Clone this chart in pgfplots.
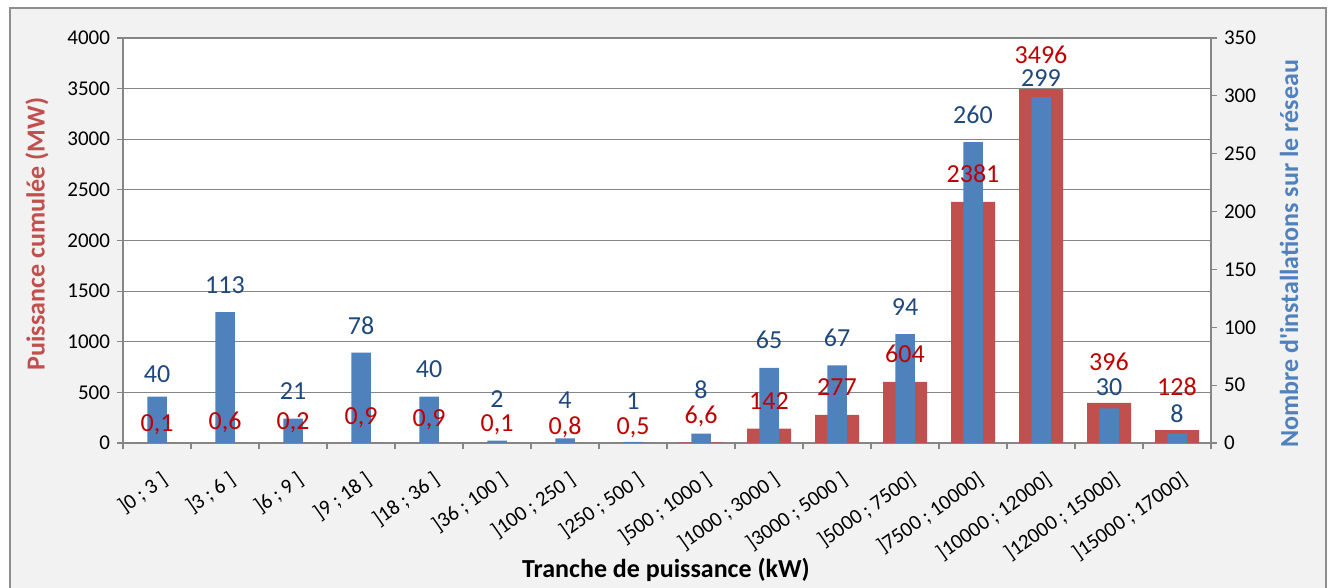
\documentclass[border=0pt]{standalone}
\usepackage{fontspec}
\setmainfont{Carlito}
\usepackage{pgfplots}
\usepackage{pgfplotstable}
\pgfplotsset{compat=1.18}
\definecolor{barred}{HTML}{C0504D}
\definecolor{barblue}{HTML}{4F81BD}
\definecolor{labred}{HTML}{C00000}
\definecolor{labblue}{HTML}{1F497D}
\definecolor{axgray}{HTML}{868686}
\definecolor{framegray}{HTML}{8E8E8E}
\definecolor{bg}{HTML}{F2F2F2}

\pgfplotstableread{
x y off lab
0 0.1 11 0,1
1 0.6 13 0,6
2 0.2 13 0,2
3 0.9 18 0,9
4 0.9 16 0,9
5 0.1 11 0,1
6 0.8 8 0,8
7 0.5 8 0,5
8 6.6 19 6,6
9 142 19 142
10 277 19 277
11 604 19 604
12 2381 19 2381
13 3496 26 3496
14 396 32 396
15 128 35 128
}\redtab

\pgfplotstableread{
x y off lab
0 40 14 40
1 113 19 113
2 21 19 21
3 78 18 78
4 40 19 40
5 2 33 2
6 4 30 4
7 1 32 1
8 8 35 8
9 65 19 65
10 67 19 67
11 94 19 94
12 260 19 260
13 299 11 299
14 30 13 30
15 8 11 8
}\bluetab

\pgfplotsset{
  common/.style={
    scale only axis, width=544pt, height=202.5pt,
    at={(61.5pt,72.5pt)}, anchor=south west,
    xmin=-0.5, xmax=15.5,
    yticklabel={\fontsize{10.5}{12}\selectfont\pgfmathprintnumber[assume math mode=true,1000 sep={}]{\tick}},
    yticklabel style={text=black},
    scaled y ticks=false,
    tick align=outside, major tick length=3pt,
    axis line style={axgray, line width=0.6pt},
    tick style={axgray, line width=0.6pt},
  },
}

\begin{document}
\begin{tikzpicture}
\useasboundingbox (0,0) rectangle (667.5pt,294pt);
\fill[white] (0,0) rectangle (667.5pt,294pt);
\fill[bg] (5pt,0) rectangle (663pt,290pt);
\draw[framegray, line width=0.75pt] (5pt,-1pt) -- (5pt,290pt) -- (663pt,290pt) -- (663pt,-1pt);

% left axis, red bars
\begin{axis}[common,
  axis x line*=bottom, axis y line*=left,
  ymin=0, ymax=4000, ytick={0,500,...,4000},
  ymajorgrids, grid style={axgray, line width=0.6pt},
  xtick={-0.5,0.5,...,15.5},
  x tick label as interval,
  xticklabels={{]0 ; 3 ]},{]3 ; 6 ]},{]6 ; 9 ]},{]9 ; 18 ]},{]18 ; 36 ]},{]36 ; 100 ]},{]100 ; 250 ]},{]250 ; 500 ]},{]500 ; 1000 ]},{]1000 ; 3000 ]},{]3000 ; 5000 ]},{]5000 ; 7500]},{]7500 ; 10000]},{]10000 ; 12000]},{]12000 ; 15000]},{]15000 ; 17000]}},
  xticklabel style={font=\fontsize{10.5}{12}\selectfont, text=black, xshift=1.5pt, yshift=-10.5pt, rotate=35, anchor=north east, inner sep=0pt},
  axis background/.style={fill=white},
]
\addplot[ybar, bar width=22pt, fill=barred, draw=none] table[x=x,y=y]{\redtab};
\end{axis}

% right axis, blue bars
\begin{axis}[common,
  axis y line*=right, axis x line=none,
  ymin=0, ymax=350, ytick={0,50,...,350},
]
\addplot[ybar, bar width=9.75pt, fill=barblue, draw=none,
  nodes near coords={\pgfplotspointmeta},
  point meta=explicit symbolic,
  visualization depends on={\thisrow{off}\as\myoff},
  every node near coord/.append style={anchor=base, yshift=\myoff*0.5pt,
      font=\fontsize{13}{15}\selectfont, inner sep=0pt, text=labblue},
  ] table[x=x,y=y,meta=lab]{\bluetab};
\end{axis}

% red labels on top
\begin{axis}[common, hide axis, ymin=0, ymax=4000]
\addplot[ybar, bar width=22pt, fill=none, draw=none,
  nodes near coords={\pgfplotspointmeta},
  point meta=explicit symbolic,
  visualization depends on={\thisrow{off}\as\myoff},
  every node near coord/.append style={anchor=base, yshift=\myoff*0.5pt,
      font=\fontsize{13}{15}\selectfont, inner sep=0pt, text=labred},
  ] table[x=x,y=y,meta=lab]{\redtab};
\end{axis}

\node[anchor=base, font=\fontsize{13}{15}\selectfont\bfseries] at (333pt,5pt) {Tranche de puissance (kW)};
\node[rotate=90, font=\fontsize{13}{15}\selectfont\bfseries, text=barred] at (18.5pt,177pt) {Puissance cumulée (MW)};
\node[rotate=90, font=\fontsize{13}{15}\selectfont\bfseries, text=barblue] at (644.5pt,167pt) {Nombre d\textquotesingle installations sur le réseau};
\end{tikzpicture}
\end{document}
